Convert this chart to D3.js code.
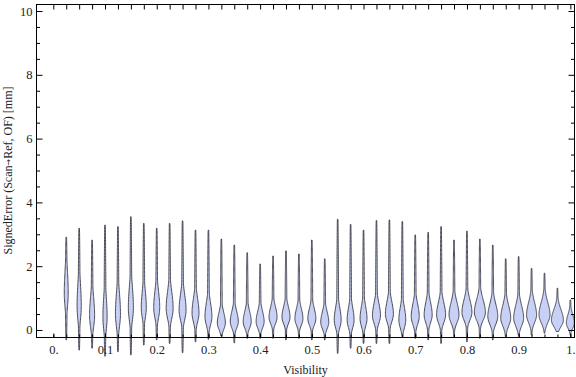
<!DOCTYPE html>
<html>
<head>
<meta charset="utf-8">
<script src="https://cdn.jsdelivr.net/npm/d3@7"></script>
<style>
body { margin: 0; background: #fff; }
svg text { font-family: "Liberation Serif", "Times New Roman", serif; }
</style>
</head>
<body>
<div id="chart"></div>
<script>
(function(){

var width = 576,
	height = 377,
	frame = {left: 36, right: 575, top: 4, bottom: 337};

// violin positions (visibility) and shape summaries
var positions = d3.range(1, 41).map(function(k){ return k * 0.025; });

var tops = [2.91,3.19,2.82,3.29,3.24,3.55,3.34,3.19,3.34,3.42,3.13,3.13,2.85,
	2.66,2.42,2.07,2.32,2.48,2.38,2.82,2.23,3.47,3.31,3.13,3.43,3.45,
	3.40,2.98,3.06,3.24,2.82,3.10,2.85,2.66,2.23,2.30,1.93,1.78,1.31,0.94];

var bottoms = [-0.31,-0.63,-0.57,-0.82,-0.68,-0.78,-0.47,-0.31,-0.42,-0.71,-0.37,-0.29,-0.19,
	-0.40,-0.26,-0.26,-0.26,-0.31,-0.26,-0.31,-0.31,-0.73,-0.57,-0.42,-0.42,-0.42,
	-0.21,-0.26,-0.31,-0.42,-0.21,-0.37,-0.26,-0.31,-0.21,-0.16,-0.16,-0.10,-0.05,-0.16];

var modes = [1.15,0.75,0.45,0.40,0.50,0.70,0.70,0.70,0.68,0.62,0.53,0.42,0.22,
	0.26,0.26,0.26,0.40,0.40,0.35,0.35,0.24,0.31,0.31,0.35,0.45,0.50,
	0.31,0.42,0.47,0.47,0.47,0.55,0.55,0.42,0.37,0.37,0.47,0.47,0.31,0.22];

var spreads = [0.55,0.55,0.45,0.50,0.50,0.50,0.40,0.40,0.40,0.38,0.35,0.33,0.25,
	0.25,0.25,0.25,0.25,0.25,0.25,0.25,0.25,0.30,0.30,0.30,0.30,0.30,
	0.30,0.30,0.30,0.30,0.30,0.30,0.30,0.30,0.30,0.30,0.30,0.30,0.25,0.20];

// relative peak density of each violin
var peaks = [0.33,0.35,0.42,0.35,0.42,0.42,0.42,0.50,0.58,0.58,0.58,0.58,0.67,
	0.67,0.67,0.67,0.67,0.67,0.67,0.67,0.67,0.58,0.58,0.58,0.67,0.67,
	0.58,0.67,0.67,0.75,0.83,0.83,0.92,0.83,0.83,0.83,0.83,0.92,1.00,0.67];

var yMajor = [0,2,4,6,8,10],
	yMinor = d3.range(0, 10.01, 0.5).filter(function(v){ return v % 2 != 0; }),
	xMajor = [0,0.1,0.2,0.3,0.4,0.5,0.6,0.7,0.8,0.9,1],
	xMajorLabels = ["0.","0.1","0.2","0.3","0.4","0.5","0.6","0.7","0.8","0.9","1."],
	xMinor = d3.range(0, 41).map(function(k){ return k * 0.025; });

var svg = d3.select("#chart").append("svg")
	.attr("width", width)
	.attr("height", height);

var X = d3.scaleLinear().domain([-0.0335, 1.009]).range([frame.left, frame.right]);
var Y = d3.scaleLinear().domain([-0.22, 10.22]).range([frame.bottom, frame.top]);
var W = d3.scaleLinear().domain([0, 1]).range([0, 6]);

// violins
var outline = d3.area()
	.y(function(d){ return Y(d.v); })
	.x0(function(d){ return d.cx - d.hw; })
	.x1(function(d){ return d.cx + d.hw; })
	.curve(d3.curveBasis);

function profile(i){
	var lo = bottoms[i], hi = tops[i], m = modes[i], s = spreads[i],
		cx = X(positions[i]), n = 90, pts = [];
	for (var k = 0; k <= n; k++){
		var v = lo + (hi - lo) * k / n;
		var sd = v > m ? s * 1.3 : s * 0.8;
		var core = W(peaks[i]) * Math.exp(-0.5 * Math.pow((v - m) / sd, 2));
		var frac = v > m ? (hi - v) / (hi - m) : (v - lo) / (m - lo);
		var tail = 0.3 + 0.7 * Math.pow(Math.max(frac, 0), 0.7);
		pts.push({v: v, cx: cx, hw: Math.max(core, tail)});
	}
	return pts;
}

svg.append("g").selectAll("path")
	.data(positions.map(function(p, i){ return profile(i); }))
	.enter().append("path")
	.attr("d", outline)
	.style("fill", "rgb(200,208,245)")
	.style("stroke", "rgb(40,40,50)")
	.style("stroke-opacity", 0.9)
	.style("stroke-width", 0.9);

// frame
svg.append("rect")
	.attr("x", frame.left + 0.5)
	.attr("y", frame.top + 0.5)
	.attr("width", frame.right - frame.left - 1)
	.attr("height", frame.bottom - frame.top)
	.style("fill", "none")
	.style("stroke", "black")
	.style("stroke-width", 1);

function styleAxis(g){
	g.select(".domain").remove();
	g.selectAll("line").style("stroke", "black");
	g.selectAll("text")
		.style("font-size", "12.5px")
		.style("fill", "#222");
}

svg.append("g")
	.attr("transform", "translate(" + (frame.left + 0.5) + ",0)")
	.call(d3.axisLeft(Y).tickValues(yMajor).tickSize(-6).tickPadding(4))
	.call(styleAxis);
svg.append("g")
	.attr("transform", "translate(" + (frame.left + 0.5) + ",0)")
	.call(d3.axisLeft(Y).tickValues(yMinor).tickSize(-3.5).tickFormat(""))
	.call(styleAxis);
svg.append("g")
	.attr("transform", "translate(" + (frame.right - 0.5) + ",0)")
	.call(d3.axisRight(Y).tickValues(yMajor).tickSize(-6).tickFormat(""))
	.call(styleAxis);
svg.append("g")
	.attr("transform", "translate(" + (frame.right - 0.5) + ",0)")
	.call(d3.axisRight(Y).tickValues(yMinor).tickSize(-3.5).tickFormat(""))
	.call(styleAxis);

svg.append("g")
	.attr("transform", "translate(0," + (frame.bottom + 0.5) + ")")
	.call(d3.axisBottom(X).tickValues(xMajor).tickSize(-4).tickPadding(8)
		.tickFormat(function(d, i){ return xMajorLabels[i]; }))
	.call(styleAxis);
svg.append("g")
	.attr("transform", "translate(0," + (frame.bottom + 0.5) + ")")
	.call(d3.axisBottom(X).tickValues(xMinor).tickSize(-3).tickFormat(""))
	.call(styleAxis);
svg.append("g")
	.attr("transform", "translate(0," + (frame.top + 0.5) + ")")
	.call(d3.axisTop(X).tickValues(xMinor).tickSize(-5).tickFormat(""))
	.call(styleAxis);

// axis titles
svg.append("text")
	.attr("x", (frame.left + frame.right) / 2)
	.attr("y", 374)
	.attr("text-anchor", "middle")
	.style("font-size", "12px")
	.style("fill", "#222")
	.text("Visibility");

var ylab = svg.append("text")
	.attr("transform", "translate(12," + ((frame.top + frame.bottom) / 2) + ") rotate(-90)")
	.attr("text-anchor", "middle")
	.style("font-size", "12px")
	.style("fill", "#222");
ylab.append("tspan").text("SignedError (Scan");
ylab.append("tspan")
	.style("font-family", "'DejaVu Sans'")
	.style("font-size", "8px")
	.attr("dy", -1)
	.text("\u2192");
ylab.append("tspan").attr("dy", 1).text("Ref, OF) [mm]");

})()
</script>
</body>
</html>
